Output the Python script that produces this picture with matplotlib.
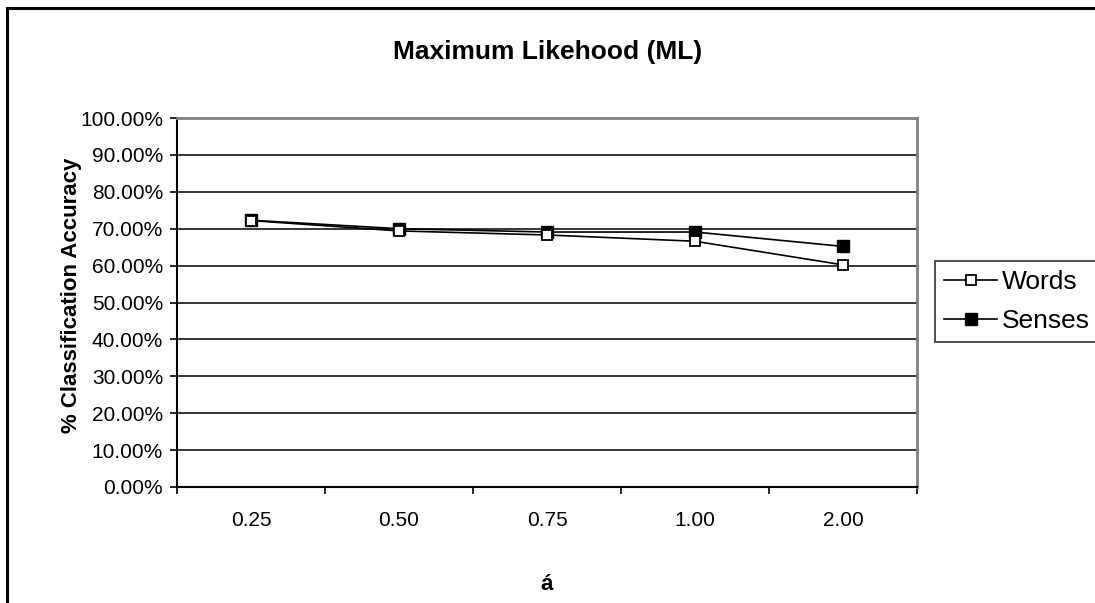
import numpy as np
import matplotlib.pyplot as plt
from matplotlib.patches import Rectangle
from matplotlib.ticker import FixedLocator, FuncFormatter

plt.rcParams['font.family'] = ['Liberation Sans', 'DejaVu Sans']

# datos
alpha_labels = ['0.25', '0.50', '0.75', '1.00', '2.00']
words = [72.2, 69.4, 68.3, 66.6, 60.2]
senses = [72.3, 70.0, 69.1, 69.1, 65.2]
y_ticks = list(range(0, 101, 10))

W, H = 1095, 603
fig = plt.figure(figsize=(W / 100, H / 100), dpi=100)

# marco exterior del grafico
fig.patches.append(Rectangle((7 / W, -0.05), 1.2, 1 - 8 / H + 0.05,
                             transform=fig.transFigure, fill=False,
                             edgecolor='black', linewidth=2.2))

ax = fig.add_axes([177 / W, 1 - 487 / H, (917 - 177) / W, (487 - 118) / H])

x = np.arange(len(alpha_labels))
ax.plot(x, words, color='black', lw=1.2, marker='s', markersize=7.5,
        markerfacecolor='white', markeredgecolor='black', markeredgewidth=1.3,
        label='Words', zorder=4)
ax.plot(x, senses, color='black', lw=1.2, marker='s', markersize=9,
        markerfacecolor='black', markeredgecolor='black',
        label='Senses', zorder=3)

ax.set_xlim(-0.5, len(alpha_labels) - 0.5)
ax.set_ylim(0, 100)

ax.set_xticks(x)
ax.set_xticklabels(alpha_labels, fontsize=15)
ax.tick_params(axis='x', which='major', length=0, pad=17)
ax.xaxis.set_minor_locator(FixedLocator(np.arange(-0.5, len(alpha_labels), 1.0)))
ax.tick_params(axis='x', which='minor', length=5, width=1.2, direction='out')

ax.set_yticks(y_ticks)
ax.yaxis.set_major_formatter(FuncFormatter(lambda v, p: '%.2f%%' % v))
ax.tick_params(axis='y', length=5, width=1.2, direction='out', labelsize=15, pad=5)

ax.yaxis.grid(True, color='black', lw=1.1)
ax.set_axisbelow(True)

ax.spines['left'].set_linewidth(1.5)
ax.spines['bottom'].set_linewidth(1.5)
ax.spines['top'].set_color('#808080')
ax.spines['right'].set_color('#808080')
ax.spines['top'].set_linewidth(2)
ax.spines['right'].set_linewidth(2)

ax.set_ylabel('% Classification Accuracy', fontsize=16, fontweight='bold', va='center')
ax.yaxis.set_label_coords((72 - 177) / 740, (487 - 295) / 369)
ax.set_xlabel('á', fontsize=16, fontweight='bold', va='center')
ax.xaxis.set_label_coords(0.5, (487 - 585) / 369)

fig.text(548 / W, 1 - 52 / H, 'Maximum Likehood (ML)', ha='center', va='center',
         fontsize=19, fontweight='bold')

leg = fig.legend(loc='upper left', bbox_to_anchor=(935 / W, 1 - 261 / H),
                 fontsize=19, frameon=True, fancybox=False, handlelength=2.0,
                 handletextpad=0.2, borderpad=0.35, labelspacing=0.55,
                 borderaxespad=0)
leg.get_frame().set_edgecolor('black')
leg.get_frame().set_linewidth(1.2)

fig.savefig('out.png', dpi=100)
